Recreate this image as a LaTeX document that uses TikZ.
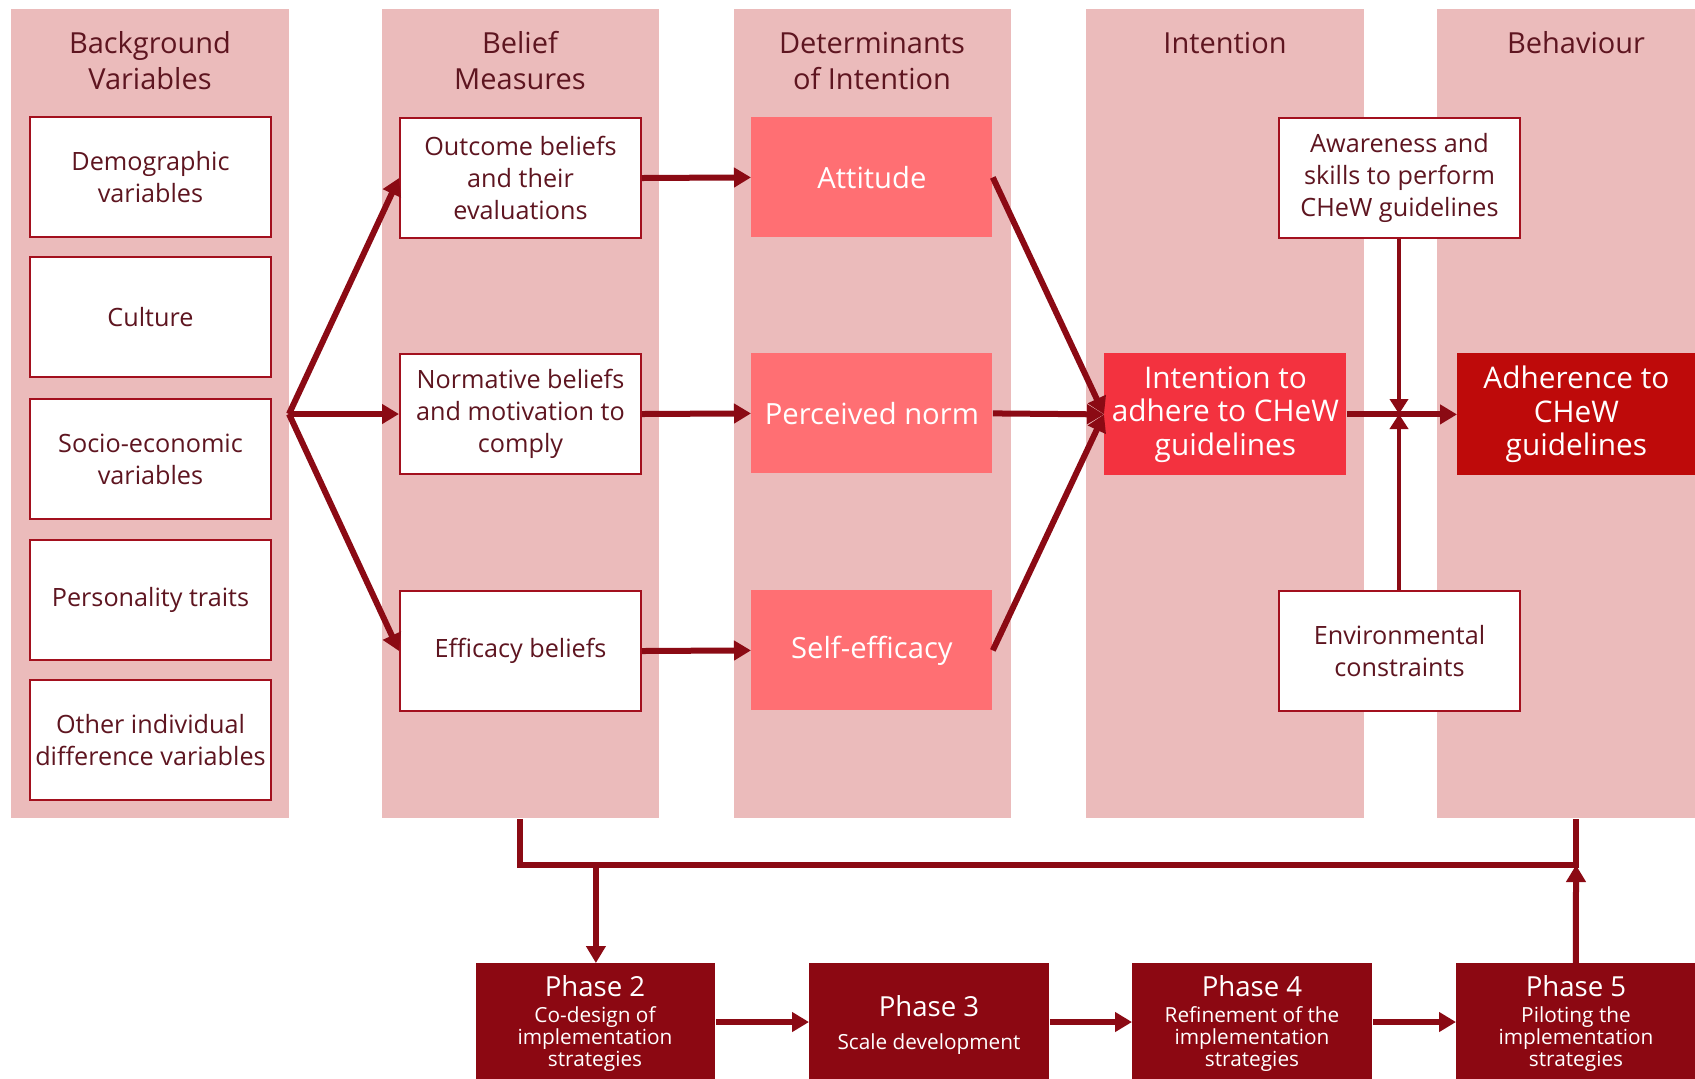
\documentclass[tikz,border=0pt]{standalone}
\usepackage{fontspec}
\setmainfont{Open Sans}
\usetikzlibrary{arrows.meta}
\definecolor{panelc}{HTML}{EBBBBB}
\definecolor{edgec}{HTML}{A3101E}
\definecolor{inkc}{HTML}{5E1520}
\definecolor{arrowc}{HTML}{8B0A14}
\definecolor{detfill}{HTML}{FF6F73}
\definecolor{intfill}{HTML}{F3323F}
\definecolor{behfill}{HTML}{BE0A0A}
\definecolor{phasefill}{HTML}{8C0812}
\begin{document}
\begin{tikzpicture}[x=0.5pt,y=-0.5pt,
  colpanel/.style={fill=panelc, draw=none, inner sep=0, anchor=north west,
    minimum height=809*0.5pt},
  coltitle/.style={text=inkc, align=center, inner sep=0,
    font=\fontsize{14.5}{18}\selectfont},
  wbox/.style={draw=edgec, line width=1pt, fill=white, text=inkc, align=center,
    inner sep=0, anchor=north west, minimum width=241*0.5pt,
    minimum height=120*0.5pt, font=\fontsize{12.6}{16}\selectfont},
  detbox/.style={fill=detfill, text=white, align=center, inner sep=0,
    anchor=north west, minimum width=241*0.5pt, minimum height=120*0.5pt,
    font=\fontsize{14.6}{17}\selectfont},
  intbox/.style={fill=intfill, text=white, align=center, inner sep=0,
    anchor=north west, minimum width=242*0.5pt, minimum height=122*0.5pt,
    font=\fontsize{14.9}{16.8}\selectfont},
  behbox/.style={fill=behfill, text=white, align=center, inner sep=0,
    anchor=north west, minimum width=238*0.5pt, minimum height=122*0.5pt,
    font=\fontsize{14.9}{16.8}\selectfont},
  phasebox/.style={fill=phasefill, draw=none, inner sep=0, anchor=north west,
    minimum width=240*0.5pt, minimum height=150*0.5pt},
  phasetitle/.style={text=white, inner sep=0, font=\fontsize{13.8}{15}\selectfont},
  phasesub/.style={text=white, align=center, inner sep=0,
    font=\fontsize{10.4}{10.8}\selectfont},
  arr/.style={draw=arrowc, line width=3pt,
    -{Triangle[length=8.5pt,width=9.5pt]}},
  arrthin/.style={draw=arrowc, line width=2pt,
    -{Triangle[length=7.5pt,width=9pt]}},
  link/.style={draw=arrowc, line width=3pt}
]
\useasboundingbox (0,0) rectangle (1695,1078);
\clip (0,0) rectangle (1695,1078);

% column panels
\node[colpanel, minimum width=278*0.5pt] (c1) at (11,9) {};
\node[colpanel, minimum width=277*0.5pt] (c2) at (382,9) {};
\node[colpanel, minimum width=277*0.5pt] (c3) at (734,9) {};
\node[colpanel, minimum width=278*0.5pt] (c4) at (1086,9) {};
\node[colpanel, minimum width=258*0.5pt] (c5) at (1437,9) {};

% column titles
\node[coltitle] (t1) at (150,61) {Background\\Variables};
\node[coltitle] (t2) at (520,61) {Belief\\Measures};
\node[coltitle] (t3) at (872,61) {Determinants\\of Intention};
\node[coltitle] (t4) at (1225,43) {Intention};
\node[coltitle] (t5) at (1576,43) {Behaviour};

% background variables
\node[wbox] (bv1) at (29,116) {Demographic\\variables};
\node[wbox] (bv2) at (29,256) {Culture};
\node[wbox] (bv3) at (29,398) {Socio-economic\\variables};
\node[wbox] (bv4) at (29,539) {Personality traits};
\node[wbox] (bv5) at (29,679) {Other individual\\difference variables};

% belief measures
\node[wbox] (ob) at (399,117) {Outcome beliefs\\and their\\evaluations};
\node[wbox] (nb) at (399,353) {Normative beliefs\\and motivation to\\comply};
\node[wbox] (eb) at (399,590) {Efficacy beliefs};

% determinants of intention
\node[detbox] (att) at (751,117) {Attitude};
\node[detbox] (pn)  at (751,353) {Perceived norm};
\node[detbox] (se)  at (751,590) {Self-efficacy};

% intention and behaviour
\node[intbox] (int) at (1104,353) {Intention to\\adhere to CHeW\\guidelines};
\node[wbox] (aw) at (1278,117) {Awareness and\\skills to perform\\CHeW guidelines};
\node[wbox] (env) at (1278,590) {Environmental\\constraints};
\node[behbox] (adh) at (1457,353) {Adherence to\\CHeW\\guidelines};

% phases
\node[phasebox, minimum width=239*0.5pt] (ph2) at (476,963) {};
\node[phasebox] (ph3) at (809,963) {};
\node[phasebox] (ph4) at (1132,963) {};
\node[phasebox, minimum width=239*0.5pt] (ph5) at (1456,963) {};

\node[phasetitle] (ph2t) at (595,986) {Phase 2};
\node[phasesub]   (ph2s) at (595,1039) {Co-design of\\implementation\\strategies};
\node[phasetitle] (ph3t) at (929,1006) {Phase 3};
\node[phasesub]   (ph3s) at (929,1044) {Scale development};
\node[phasetitle] (ph4t) at (1252,986) {Phase 4};
\node[phasesub]   (ph4s) at (1252,1039) {Refinement of the\\implementation\\strategies};
\node[phasetitle] (ph5t) at (1576,986) {Phase 5};
\node[phasesub]   (ph5s) at (1576,1039) {Piloting the\\implementation\\strategies};

% fan-out from the background variables
\coordinate (fan) at (289,414);
\draw[arr] (fan) -- (ob.west);
\draw[arr] (fan) -- (nb.west);
\draw[arr] (fan) -- (eb.west);

% beliefs to determinants
\draw[arr] (ob.east) -- (att.west);
\draw[arr] (nb.east) -- (pn.west);
\draw[arr] (eb.east) -- (se.west);

% determinants to intention
\draw[arr] (att.east) -- (int.west);
\draw[arr] (pn.east) -- (int.west);
\draw[arr] (se.east) -- (int.west);

% intention to behaviour, with moderators
\coordinate (mod) at (1399,414);
\draw[arr] (int.east) -- (adh.west);
\draw[arrthin] (aw.south -| mod) -- (mod);
\draw[arrthin] (env.north -| mod) -- (mod);

% feedback loop to the phases
\coordinate (jl) at (520,865);
\coordinate (jr) at (1576,865);
\draw[link, line join=miter] (c2.south -| jl) -- (jl) -- (jr) -- (c5.south -| jr);
\draw[arr] (ph2.north |- jl) -- (ph2.north);
\draw[arr] (ph5.north |- jr) ++(0,98) -- (jr);

% phase sequence
\draw[arr] (ph2.east |- 0,1022) -- (ph3.west |- 0,1022);
\draw[arr] (ph3.east |- 0,1022) -- (ph4.west |- 0,1022);
\draw[arr] (ph4.east |- 0,1022) -- (ph5.west |- 0,1022);
\end{tikzpicture}
\end{document}
